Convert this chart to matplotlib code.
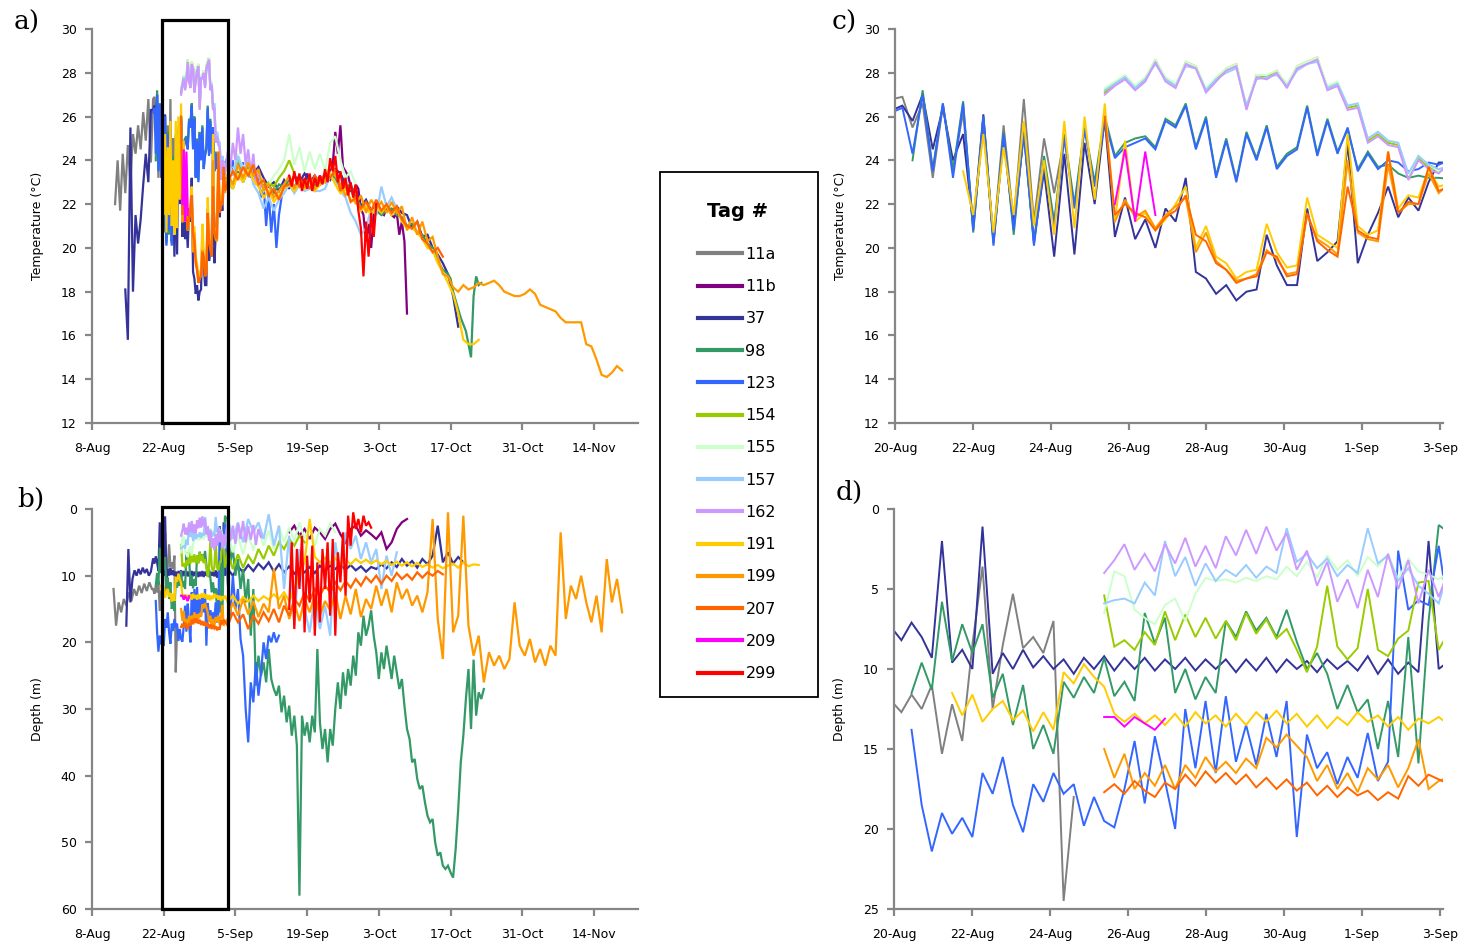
import numpy as np
import matplotlib
matplotlib.use("Agg")
import matplotlib.pyplot as plt
from matplotlib.patches import Rectangle
from matplotlib.lines import Line2D

# ---------------------------------------------------------------- categories
TAGS = ["11a", "11b", "37", "98", "123", "154", "155", "157", "162",
        "191", "199", "207", "209", "299"]
COLORS = ["#808080", "#800080", "#333399", "#339966", "#3366FF", "#99CC00",
          "#CCFFCC", "#99CCFF", "#CC99FF", "#FFCC00", "#FF9900", "#FF6600",
          "#FF00FF", "#FF0000"]

# x axis: days since 8 Aug
OVERVIEW_TICKS = [0, 14, 28, 42, 56, 70, 84, 98]
OVERVIEW_LABELS = ["8-Aug", "22-Aug", "5-Sep", "19-Sep", "3-Oct", "17-Oct", "31-Oct", "14-Nov"]
DETAIL_TICKS = [12, 14, 16, 18, 20, 22, 24, 26]
DETAIL_LABELS = ["20-Aug", "22-Aug", "24-Aug", "26-Aug", "28-Aug", "30-Aug", "1-Sep", "3-Sep"]
ZOOM_START, ZOOM_END = 13.67, 26.56

# tidal sampling times (days since 8 Aug) for the 20 Aug - 3 Sep window
DETAIL_DAYS = [11.93, 12.19, 12.45, 12.71, 12.97, 13.23, 13.49, 13.75, 14.01, 14.27,
               14.53, 14.79, 15.05, 15.31, 15.57, 15.83, 16.09, 16.35, 16.61, 16.87,
               17.13, 17.39, 17.65, 17.91, 18.17, 18.43, 18.69, 18.95, 19.21, 19.47,
               19.73, 19.99, 20.25, 20.51, 20.77, 21.03, 21.29, 21.55, 21.81, 22.07,
               22.33, 22.59, 22.85, 23.11, 23.37, 23.63, 23.89, 24.15, 24.41, 24.67,
               24.93, 25.19, 25.45, 25.71, 25.97]

# ---------------------------------------------------------------- temperature (deg C)
TEMP_11A_PRE = [22.0, 24.0, 21.7, 24.3, 22.5, 24.7, 23.0, 25.2, 24.3, 25.6, 24.5, 26.2, 24.9, 26.8, 23.9]
TEMP_11A_DETAIL = [26.8, 26.9, 25.5, 26.6, 23.2, 26.5, 23.6, 26.2, 21.0, 25.6, 20.4, 25.6, 21.2, 26.8,
                   21.2, 25.0, 22.5, 25.0]
TEMP_11B_POST = [23.2, 23.0, 23.1, 22.9, 23.4, 23.0, 22.9, 23.3, 23.0, 23.3, 23.0, 23.4, 23.2, 23.6,
                 23.8, 25.3, 24.3, 25.6, 23.7, 23.5, 23.3, 22.8, 22.4, 22.9, 22.7, 21.8, 21.5, 20.3,
                 21.1, 20.0, 21.5, 21.8, 21.9, 21.6, 21.5, 21.8, 21.7, 21.5, 21.4, 21.6, 20.6, 21.2,
                 20.3, 17.0]
TEMP_37_PRE = [18.1, 15.8, 25.5, 18.0, 21.5, 20.2, 21.3, 22.9, 24.3, 23.0, 26.3]
TEMP_37_DETAIL = [26.3, 26.5, 25.8, 27.0, 24.5, 26.4, 24.0, 25.2, 21.0, 26.1,
                  20.3, 25.0, 21.0, 25.2, 20.3, 23.5, 19.6, 24.3, 19.7, 24.8,
                  22.0, 25.9, 20.5, 22.3, 20.4, 21.3, 20.0, 21.8, 21.2, 23.2,
                  18.9, 18.6, 17.9, 18.3, 17.6, 18.0, 18.1, 20.6, 19.2, 18.3,
                  18.3, 21.8, 19.4, 19.8, 20.3, 24.8, 19.3, 20.6, 21.6, 22.8,
                  21.4, 22.3, 21.7, 23.0, 23.9]
TEMP_37_POST = [23.9, 23.5, 24.1, 23.6, 23.9, 23.4, 23.7, 23.2, 22.8, 23.0,
                22.6, 23.1, 22.7, 23.3, 23.0, 23.4, 23.0, 23.3, 22.9, 23.3,
                23.1, 23.6, 23.4, 22.9, 22.6, 22.7, 21.9, 22.2, 21.7, 22.0,
                21.6, 21.8, 21.7, 21.9, 21.6, 21.5, 20.9, 21.2, 20.5, 20.6,
                20.0, 19.7, 19.3, 18.8, 17.8, 16.4]
TEMP_98_DETAIL = [24.0, 27.2, 23.6, 26.6, 23.5, 26.7, 20.7, 26.0, 20.2, 25.3,
                  20.6, 25.4, 20.2, 24.2, 21.2, 25.2, 22.0, 25.5, 23.0, 26.0,
                  24.2, 24.8, 25.0, 25.1, 24.6, 25.9, 25.6, 26.6, 24.6, 26.0,
                  23.3, 25.0, 23.1, 25.3, 24.1, 25.6, 23.7, 24.3, 24.6, 26.5,
                  24.3, 25.9, 24.4, 25.4, 23.6, 24.4, 23.7, 23.8, 23.4, 23.2,
                  23.3, 23.2, 23.2]
TEMP_98_POST = [23.1, 22.7, 23.5, 23.0, 23.6, 23.2, 23.4, 22.6, 22.9, 22.5,
                22.9, 22.8, 23.1, 22.8, 23.1, 22.9, 23.2, 22.8, 23.2, 23.0,
                23.3, 23.2, 22.7, 22.8, 22.9, 22.3, 21.9, 21.8, 21.6, 21.7,
                21.5, 21.7, 21.8, 21.5, 21.4, 21.0, 21.1, 20.7, 20.6, 20.2,
                20.0, 19.4, 19.0, 18.8]
TEMP_98_END = [18.6, 18.0, 17.6, 17.2, 16.8, 16.5, 16.2, 15.6, 15.0, 17.8, 18.7, 18.3, 18.4]
TEMP_123_DETAIL = [26.2, 26.4, 24.3, 27.0, 23.5, 26.6, 23.2, 26.6, 20.8, 26.0,
                   20.1, 25.2, 20.8, 25.3, 20.1, 23.8, 21.0, 25.0, 21.8, 25.4,
                   22.8, 25.8, 24.1, 24.6, 24.8, 25.0, 24.5, 25.8, 25.5, 26.5,
                   24.5, 25.9, 23.2, 24.9, 23.0, 25.2, 24.0, 25.5, 23.6, 24.2,
                   24.5, 26.4, 24.2, 25.8, 24.3, 25.5, 23.5, 24.3, 23.6, 24.0,
                   23.9, 23.5, 23.6, 23.9, 23.8]
TEMP_123_POST = [24.2, 23.5, 24.0, 23.3, 24.1, 23.6, 23.9, 23.5, 23.8, 23.2, 23.6,
                 22.9, 23.3, 22.3, 22.9, 21.0, 22.5, 20.7, 22.0, 20.0, 21.5, 22.3]
TEMP_154_DETAIL = [27.1, 27.5, 27.8, 27.3, 27.7, 28.6, 27.7, 27.4, 28.5, 28.3,
                   27.2, 27.7, 28.2, 28.4, 26.4, 27.9, 27.8, 28.1, 27.4, 28.3,
                   28.5, 28.7, 27.3, 27.5, 26.4, 26.5, 24.9, 25.2, 24.8, 24.7,
                   23.2, 24.1, 23.7, 23.5]
TEMP_154_POST = [23.8, 23.4, 24.0, 23.6, 23.9, 23.1, 23.0, 22.8, 23.0, 22.8, 23.2, 23.5, 24.0, 23.4]
TEMP_155_DETAIL = [27.3, 27.6, 27.9, 27.4, 27.8, 28.6, 27.8, 27.5, 28.5, 28.3,
                   27.3, 27.8, 28.2, 28.4, 26.5, 27.9, 27.9, 28.1, 27.5, 28.3,
                   28.5, 28.7, 27.4, 27.6, 26.5, 26.6, 25.0, 25.3, 24.9, 24.8,
                   23.3, 24.2, 23.8, 23.5]
TEMP_155_POST = [24.0, 23.4, 24.3, 23.6, 24.2, 23.1, 23.0, 22.6, 22.9, 23.3, 23.6, 24.0, 25.2,
                 23.8, 24.6, 23.5, 24.4, 23.6, 24.3, 23.5, 24.8, 25.1, 24.0, 23.2, 23.5, 22.9]
TEMP_157_DETAIL = [27.2, 27.5, 27.8, 27.3, 27.7, 28.4, 27.7, 27.4, 28.3, 28.2,
                   27.2, 27.7, 28.0, 28.2, 26.5, 27.7, 27.8, 27.9, 27.4, 28.1,
                   28.4, 28.5, 27.3, 27.5, 26.5, 26.6, 25.0, 25.3, 24.9, 24.8,
                   23.4, 24.2, 23.8, 23.6]
TEMP_157_POST = [23.9, 23.3, 24.2, 23.5, 24.0, 22.9, 22.5, 21.8, 22.3, 21.7, 22.2, 22.5,
                 22.9, 22.5, 22.9, 22.6, 22.7, 22.6, 22.6, 22.7, 23.3, 23.0, 22.6, 22.3,
                 21.6, 21.2, 20.6, 20.9, 21.8, 21.5, 22.8, 21.9, 22.3, 21.8]
TEMP_162_DETAIL = [27.0, 27.4, 27.7, 27.2, 27.6, 28.5, 27.6, 27.3, 28.4, 28.2,
                   27.1, 27.6, 28.1, 28.3, 26.3, 27.8, 27.7, 28.0, 27.3, 28.2,
                   28.4, 28.6, 27.2, 27.4, 26.3, 26.4, 24.8, 25.1, 24.7, 24.6,
                   23.1, 24.0, 23.6, 23.4]
TEMP_162_POST = [24.4, 23.6, 24.8, 24.0, 25.5, 24.3, 25.2, 23.8, 24.5, 23.4, 24.3, 22.9, 23.5, 22.8]
TEMP_191_DETAIL = [23.5, 21.5, 25.2, 20.7, 24.6, 21.5, 25.8, 21.0, 24.0, 20.6,
                   25.8, 20.9, 26.0, 22.2, 26.6, 21.2, 24.9, 21.2, 21.6, 20.8,
                   21.3, 22.0, 22.8, 20.0, 21.0, 19.6, 19.3, 18.6, 18.9, 19.0,
                   21.1, 19.8, 19.1, 19.2, 22.3, 20.6, 20.3, 20.0, 25.2, 21.0,
                   20.6, 20.8, 24.4, 21.8, 22.4, 22.3, 23.6, 22.8]
TEMP_191_POST = [23.1, 22.7, 23.4, 23.0, 23.6, 23.1, 22.8, 22.3, 22.6, 22.1,
                 22.4, 22.7, 22.9, 22.6, 23.0, 22.7, 23.0, 22.6, 22.9, 23.1,
                 23.4, 22.9, 22.5, 22.7, 22.2, 22.1, 21.7, 21.9, 21.5, 21.9,
                 21.6, 21.9, 21.5, 21.8, 21.2, 20.9, 20.9, 20.7, 20.4, 20.0,
                 19.9, 19.3, 18.9, 18.4, 17.9, 17.0, 15.8, 15.6, 15.6, 15.8]
TEMP_199_DETAIL = [21.2, 22.2, 21.4, 21.7, 20.9, 21.5, 21.9, 22.3, 19.8, 20.7,
                   19.4, 19.0, 18.5, 18.6, 18.8, 19.9, 19.5, 18.8, 18.9, 21.5,
                   20.4, 20.1, 19.7, 24.0, 20.7, 20.4, 20.3, 23.8, 21.6, 22.0,
                   22.0, 23.4, 22.5]
TEMP_199_POST = [23.4, 22.9, 23.8, 23.2, 23.9, 23.3, 23.6, 22.6, 22.9, 22.3,
                 22.6, 22.9, 23.3, 22.7, 23.2, 22.8, 23.2, 22.7, 23.1, 23.0,
                 23.8, 23.3, 22.9, 22.4, 22.8, 22.0, 22.4, 21.6, 22.2, 21.8,
                 22.1, 21.6, 22.1, 21.6, 21.9, 20.8, 21.4, 20.6, 21.2, 20.3,
                 20.5, 19.6, 18.8, 18.7, 18.2, 18.0, 18.3, 18.1, 18.2, 18.4,
                 18.3, 18.4, 18.5, 18.3, 18.0, 17.9, 17.8, 17.8, 17.9, 18.1,
                 17.9, 17.4, 17.3, 17.2, 17.1, 16.8, 16.6, 16.6, 16.6, 16.6,
                 15.6, 15.5, 14.9, 14.2, 14.1, 14.3, 14.6, 14.4]
TEMP_207_DETAIL = [26.0, 21.5, 22.0, 21.6, 21.4, 20.8, 21.4, 21.7, 22.4, 20.6,
                   20.3, 19.3, 19.0, 18.4, 18.6, 18.7, 19.8, 19.6, 18.7, 18.8,
                   21.6, 20.3, 19.9, 19.6, 22.8, 20.8, 20.5, 20.4, 24.4, 21.6,
                   22.1, 22.0, 23.7, 22.6]
TEMP_207_POST = [23.0, 23.5, 23.1, 23.7, 23.3, 23.8, 22.9, 23.1, 22.4, 22.7,
                 22.2, 22.8, 22.9, 23.3, 22.8, 23.1, 22.7, 23.3, 23.0, 23.4,
                 23.2, 23.6, 22.6, 22.9, 22.1, 22.3, 21.8, 22.1, 21.7, 22.2,
                 21.7, 22.0, 21.6, 21.9, 21.3, 21.0, 20.9, 21.2, 20.4, 20.2,
                 19.8, 20.0, 19.6]
TEMP_209_DETAIL = [22.0, 24.5, 21.2, 24.4, 21.5]
TEMP_299_POST = [23.3, 22.8, 23.5, 22.9, 23.4, 22.6, 23.2, 22.7, 23.4, 22.6,
                 23.2, 22.8, 23.3, 22.9, 23.6, 23.0, 24.1, 23.5, 24.2, 23.0,
                 23.5, 22.7, 23.2, 22.4, 23.0, 22.3, 22.9, 21.7, 20.9, 18.7,
                 21.2, 19.6, 21.6, 20.5, 22.0]

# ---------------------------------------------------------------- depth (m)
DEPTH_11A_PRE = [12.0, 17.5, 14.0, 15.5, 13.5, 14.5, 12.5, 13.8, 12.0, 13.0, 11.5, 12.6, 11.2, 12.3, 11.0, 12.0]
DEPTH_11A_DETAIL = [12.0, 12.7, 11.6, 12.5, 11.0, 15.3, 12.2, 14.5, 8.5, 3.6, 12.5, 8.5, 5.3, 8.7,
                    8.0, 9.0, 7.0, 24.5, 18.0]
DEPTH_11B_POST = [3.5, 2.5, 4.0, 3.0, 4.5, 2.8, 3.5, 4.5, 3.0, 2.2, 3.8, 5.0, 3.0, 2.5, 4.0, 3.2,
                  3.8, 4.5, 3.5, 6.0, 5.0, 3.0, 2.0, 1.5]
DEPTH_37_PRE = [17.5, 6.0, 14.0, 10.5, 9.2, 10.0, 9.0, 9.8, 8.8, 9.6, 9.0, 10.0, 9.4]
DEPTH_37_DETAIL = [7.4, 8.2, 7.1, 8.0, 9.3, 2.0, 9.6, 8.8, 10.0, 1.1,
                   10.3, 9.0, 10.0, 8.8, 9.9, 9.2, 10.0, 9.4, 10.3, 9.3,
                   10.0, 9.2, 10.1, 9.3, 10.0, 9.3, 10.1, 9.4, 10.0, 9.3,
                   10.1, 9.4, 10.0, 9.4, 10.2, 9.4, 10.1, 9.3, 10.2, 9.4,
                   10.0, 9.5, 10.2, 9.4, 10.0, 9.5, 10.1, 9.2, 10.3, 9.4,
                   10.3, 9.6, 10.2, 2.0, 10.0]
DEPTH_37_POST = [9.0, 10.0, 8.6, 9.5, 8.4, 9.3, 8.2, 9.0, 8.0, 9.4,
                 8.3, 9.5, 8.6, 9.7, 8.9, 9.5, 8.7, 9.6, 8.5, 9.3,
                 8.5, 9.0, 8.3, 9.1, 8.4, 9.2, 8.6, 9.4, 8.7, 9.0,
                 8.3, 8.9, 8.0, 8.7, 7.5, 8.5, 7.8, 8.8, 7.5, 8.3,
                 7.0, 2.5, 8.0, 6.5, 8.2, 7.2, 8.0]
DEPTH_98_DETAIL = [11.5, 9.6, 11.3, 5.8, 9.5, 7.2, 9.0, 7.2, 11.8, 10.3,
                   13.5, 11.0, 15.0, 13.5, 15.3, 10.8, 11.8, 10.5, 11.5, 9.3,
                   11.7, 10.8, 12.0, 6.5, 8.4, 6.8, 11.5, 10.0, 11.9, 10.5,
                   11.5, 7.0, 8.0, 6.4, 7.6, 6.8, 8.0, 6.3, 8.3, 10.0,
                   9.0, 10.3, 12.5, 11.0, 12.7, 11.9, 15.0, 12.0, 15.5, 8.0,
                   15.9, 7.0, 1.0]
DEPTH_98_POST = [2.0, 8.0, 6.0, 10.0, 7.5, 12.0, 9.0, 14.0, 10.5, 19.0,
                 12.0, 26.5, 22.0, 25.0, 23.0, 26.0, 21.0, 25.5, 27.0, 28.0,
                 26.5, 30.5, 28.0, 32.0, 29.5, 34.0, 31.0, 35.5, 58.0, 31.0,
                 34.0, 32.0, 35.0, 31.0, 33.5, 21.0, 32.0, 36.0, 33.0, 38.0,
                 33.0, 35.5, 30.0, 26.0, 30.0, 24.5, 28.0, 24.0, 26.5, 22.0,
                 25.0, 18.5, 20.5, 16.0, 19.0, 17.5, 15.2, 19.0, 21.5, 25.5,
                 21.5, 24.0, 20.5, 23.0, 25.5, 22.0, 24.5, 27.0, 25.5, 29.5,
                 33.0, 34.5, 38.0, 37.5, 40.5, 42.0, 41.5, 44.0, 46.0, 47.0,
                 46.5, 50.0, 52.0, 51.5, 53.5, 54.0, 53.5, 54.5, 55.3, 51.0,
                 45.0, 38.0, 34.0, 28.5, 24.0, 33.0, 22.6, 31.0, 27.5, 28.5,
                 27.0]
DEPTH_123_DETAIL = [13.8, 18.5, 21.4, 19.0, 20.3, 19.3, 20.5, 16.5, 17.8, 15.5,
                    18.5, 20.2, 17.2, 18.3, 16.5, 17.8, 17.2, 19.8, 18.0, 19.5,
                    19.9, 17.5, 14.5, 18.4, 14.2, 17.0, 20.0, 12.5, 16.2, 12.0,
                    16.5, 11.7, 15.8, 13.5, 16.0, 12.8, 15.5, 12.0, 20.5, 14.1,
                    16.2, 15.2, 17.2, 15.5, 16.8, 14.0, 17.0, 15.8, 2.6, 6.3,
                    5.7, 6.0, 2.3]
DEPTH_123_POST = [11.0, 16.0, 10.0, 15.0, 12.0, 19.5, 22.0, 30.0, 35.0, 26.0, 29.0,
                  23.0, 28.0, 24.5, 20.0, 22.5, 19.0, 20.0, 18.5, 20.0, 19.0]
DEPTH_154_DETAIL = [5.4, 8.6, 8.2, 8.8, 7.7, 8.5, 6.4, 8.2, 6.6, 8.0,
                    6.8, 8.1, 7.0, 8.2, 6.5, 7.8, 6.9, 8.1, 7.5, 8.8,
                    10.2, 8.6, 4.8, 8.6, 9.4, 8.7, 5.0, 8.8, 9.2, 8.1,
                    7.6, 4.6, 4.5, 8.8]
DEPTH_154_POST = [6.5, 9.0, 6.8, 8.8, 7.0, 8.2, 6.0, 7.5, 5.5, 7.0, 5.0, 6.0, 4.5, 5.5, 4.0, 5.0]
DEPTH_155_DETAIL = [6.5, 3.9, 4.2, 6.3, 6.8, 7.2, 6.0, 5.6, 7.0, 5.3,
                    4.3, 4.5, 4.4, 4.6, 4.3, 4.5, 4.2, 4.4, 3.6, 4.2,
                    3.3, 4.3, 2.9, 3.8, 3.2, 4.2, 3.0, 3.6, 2.8, 4.4,
                    3.1, 3.9, 4.1, 4.4]
DEPTH_155_POST = [3.5, 6.5, 4.0, 6.8, 3.8, 6.2, 3.0, 5.5, 3.2, 6.0, 2.5, 5.0, 2.8, 4.8,
                  2.0, 4.5, 2.5, 5.5, 3.0, 4.0, 2.2, 3.5]
DEPTH_157_DETAIL = [5.9, 5.7, 5.6, 5.9, 4.6, 5.4, 2.0, 4.2, 3.0, 4.8,
                    3.4, 4.5, 3.8, 4.2, 3.5, 4.3, 3.6, 4.0, 1.2, 3.3,
                    2.8, 3.7, 3.1, 4.2, 3.5, 4.0, 1.2, 3.4, 2.9, 4.5,
                    3.7, 4.8, 5.3, 5.9]
DEPTH_157_POST = [1.5, 4.5, 2.0, 5.0, 1.5, 3.5, 2.0, 4.5, 0.8, 5.5, 2.5, 12.0, 4.0, 17.5,
                  6.0, 15.0, 18.5, 13.0, 18.0, 14.5, 19.0, 5.0, 10.0, 3.5, 6.0, 4.0,
                  7.5, 5.0, 8.0, 6.0, 12.0, 7.0, 10.0, 6.5]
DEPTH_162_DETAIL = [4.0, 3.2, 2.2, 3.8, 2.8, 3.9, 2.2, 3.4, 1.8, 3.6,
                    2.3, 3.7, 1.7, 2.9, 1.3, 2.8, 1.1, 2.6, 1.5, 3.8,
                    2.6, 4.8, 3.3, 5.8, 4.4, 6.2, 3.8, 5.5, 2.8, 5.0,
                    3.2, 5.9, 3.8, 5.5]
DEPTH_162_POST = [2.0, 4.8, 2.5, 5.2, 2.2, 4.5, 1.8, 5.0, 2.6, 4.6, 2.4, 5.4, 3.0, 4.2]
DEPTH_191_DETAIL = [11.5, 12.9, 11.6, 13.3, 12.5, 12.0, 13.2, 12.6, 13.9, 12.7,
                    13.8, 10.2, 10.9, 9.7, 10.5, 11.1, 12.8, 13.3, 12.8, 13.4,
                    12.9, 13.5, 12.8, 13.6, 12.7, 13.4, 12.9, 13.6, 12.8, 13.5,
                    12.7, 13.3, 12.6, 13.4, 12.8, 13.6, 12.9, 13.7, 13.0, 13.5,
                    12.7, 13.3, 12.9, 13.6, 13.0, 13.8, 13.1, 13.4, 13.0]
DEPTH_191_POST = [14.0, 13.0, 14.2, 13.2, 13.9, 13.0, 13.8, 13.1, 13.6, 12.8,
                  13.5, 12.5, 13.8, 12.0, 10.0, 8.0, 1.5, 7.2, 8.0, 7.3,
                  8.1, 7.4, 8.2, 7.6, 8.3, 7.5, 8.1, 7.6, 8.2, 7.7,
                  8.3, 7.8, 8.4, 7.9, 8.5, 8.0, 8.6, 8.1, 8.7, 8.3,
                  8.8, 8.4, 8.9, 8.5, 8.2, 8.8, 8.0, 8.6, 8.3, 8.4]
DEPTH_199_DETAIL = [15.0, 16.8, 15.3, 17.5, 16.5, 17.3, 16.0, 17.5, 16.0, 16.8,
                    15.5, 16.4, 15.8, 16.5, 15.6, 16.2, 14.3, 14.9, 14.1, 14.8,
                    15.5, 17.0, 16.0, 17.5, 16.5, 17.7, 16.2, 16.9, 16.0, 17.4,
                    16.2, 14.4, 17.5, 17.0]
DEPTH_199_POST = [16.5, 14.0, 16.0, 13.5, 15.8, 13.8, 16.2, 14.2, 15.5, 9.0,
                  15.0, 13.0, 16.5, 14.0, 16.8, 13.5, 15.5, 12.8, 16.0, 13.8,
                  15.2, 12.5, 16.5, 13.0, 15.8, 12.0, 16.2, 13.5, 15.0, 11.5,
                  14.5, 12.0, 15.5, 11.0, 13.5, 12.0, 14.5, 13.0, 15.5, 12.5,
                  1.5, 16.5, 22.5, 0.5, 18.5, 16.0, 1.0, 17.5, 22.0, 19.0,
                  26.0, 21.5, 23.5, 22.0, 24.0, 22.5, 14.0, 20.5, 22.0, 19.5,
                  23.0, 21.0, 23.5, 20.5, 22.0, 3.5, 16.5, 11.5, 13.5, 10.0,
                  14.0, 17.0, 13.0, 18.5, 7.5, 14.0, 10.5, 15.5]
DEPTH_207_DETAIL = [17.7, 17.2, 17.8, 17.0, 17.6, 18.0, 17.1, 17.5, 16.6, 17.3,
                    16.4, 17.1, 16.5, 17.2, 16.6, 17.4, 16.8, 17.5, 16.9, 17.6,
                    17.1, 17.9, 17.3, 18.0, 17.4, 17.9, 17.6, 18.2, 17.7, 18.1,
                    16.7, 17.3, 16.6, 16.9]
DEPTH_207_POST = [17.5, 15.5, 17.0, 15.8, 18.0, 16.0, 17.2, 15.5, 16.8, 15.0,
                  17.0, 14.5, 16.0, 13.5, 14.5, 12.5, 13.8, 12.0, 13.0, 11.5,
                  12.5, 11.0, 12.2, 10.8, 11.8, 10.5, 11.5, 10.2, 11.0, 10.0,
                  11.2, 10.0, 10.8, 9.6, 10.5, 9.8, 10.6, 9.5, 10.3, 9.5,
                  10.0, 9.3, 9.8]
DEPTH_209_DETAIL = [13.0, 13.0, 13.6, 13.0, 13.4, 13.8, 13.1]
DEPTH_299_POST = [15.0, 5.0, 18.0, 6.0, 12.0, 4.0, 18.5, 7.0, 14.0, 5.5,
                  19.0, 8.0, 17.0, 6.0, 12.0, 5.0, 16.0, 4.5, 19.0, 6.5,
                  11.0, 3.5, 13.0, 1.0, 5.5, 0.5, 3.0, 1.5, 3.5, 1.0,
                  2.5, 2.0, 2.8]


# ---------------------------------------------------------------- helpers
def seg(start, step, vals):
    return start + step * np.arange(len(vals)), np.asarray(vals, float)


def det(k0, vals):
    return np.asarray(DETAIL_DAYS[k0:k0 + len(vals)], float), np.asarray(vals, float)


def join(parts):
    d = np.concatenate([p[0] for p in parts])
    v = np.concatenate([p[1] for p in parts])
    o = np.argsort(d, kind="stable")
    return d[o], v[o]


TEMP = [
    join([seg(4.5, 0.5, TEMP_11A_PRE), det(0, TEMP_11A_DETAIL)]),
    join([seg(40, 0.5, TEMP_11B_POST)]),
    join([seg(6.5, 0.5, TEMP_37_PRE), det(0, TEMP_37_DETAIL), seg(26.5, 1, TEMP_37_POST)]),
    join([det(2, TEMP_98_DETAIL), seg(26.5, 1, TEMP_98_POST), seg(70, 0.5, TEMP_98_END)]),
    join([det(0, TEMP_123_DETAIL), seg(26.5, 0.5, TEMP_123_POST)]),
    join([det(21, TEMP_154_DETAIL), seg(26.5, 1, TEMP_154_POST)]),
    join([det(21, TEMP_155_DETAIL), seg(26.5, 1, TEMP_155_POST)]),
    join([det(21, TEMP_157_DETAIL), seg(26.5, 1, TEMP_157_POST)]),
    join([det(21, TEMP_162_DETAIL), seg(26.5, 0.5, TEMP_162_POST)]),
    join([det(7, TEMP_191_DETAIL), seg(26.5, 1, TEMP_191_POST)]),
    join([det(22, TEMP_199_DETAIL), seg(26.5, 1, TEMP_199_POST)]),
    join([det(21, TEMP_207_DETAIL), seg(26.5, 1, TEMP_207_POST)]),
    join([det(22, TEMP_209_DETAIL)]),
    join([seg(38.5, 0.5, TEMP_299_POST)]),
]
DEPTH = [
    join([seg(4.2, 0.5, DEPTH_11A_PRE), det(0, DEPTH_11A_DETAIL)]),
    join([seg(38.5, 1, DEPTH_11B_POST)]),
    join([seg(6.7, 0.4, DEPTH_37_PRE), det(0, DEPTH_37_DETAIL), seg(26.5, 1, DEPTH_37_POST)]),
    join([det(2, DEPTH_98_DETAIL), seg(26.5, 0.5, DEPTH_98_POST)]),
    join([det(2, DEPTH_123_DETAIL), seg(26.5, 0.5, DEPTH_123_POST)]),
    join([det(21, DEPTH_154_DETAIL), seg(26.5, 1, DEPTH_154_POST)]),
    join([det(21, DEPTH_155_DETAIL), seg(26.5, 1, DEPTH_155_POST)]),
    join([det(21, DEPTH_157_DETAIL), seg(26.5, 1, DEPTH_157_POST)]),
    join([det(21, DEPTH_162_DETAIL), seg(26.5, 0.5, DEPTH_162_POST)]),
    join([det(6, DEPTH_191_DETAIL), seg(26.5, 1, DEPTH_191_POST)]),
    join([det(21, DEPTH_199_DETAIL), seg(26.5, 1, DEPTH_199_POST)]),
    join([det(21, DEPTH_207_DETAIL), seg(26.5, 1, DEPTH_207_POST)]),
    join([det(21, DEPTH_209_DETAIL)]),
    join([seg(38.5, 0.5, DEPTH_299_POST)]),
]

# ---------------------------------------------------------------- figure
W, H = 1468, 944
fig = plt.figure(figsize=(W / 100, H / 100), dpi=100)


def px_axes(left, top, right, bottom):
    return fig.add_axes([left / W, 1 - bottom / H, (right - left) / W, (bottom - top) / H])


ax_a = px_axes(92, 29, 638, 423)
ax_b = px_axes(92, 509, 638, 909)
ax_c = px_axes(895, 29, 1443, 423)
ax_d = px_axes(894, 509, 1443, 909)

GREY = "#868686"
TICK_FONT = dict(family="DejaVu Sans", size=9)


def style(ax, xlim, xticks, xlabels, ylim, yticks, ylabel):
    ax.set_xlim(*xlim)
    ax.set_ylim(*ylim)
    for s in ("top", "right"):
        ax.spines[s].set_visible(False)
    for s in ("left", "bottom"):
        ax.spines[s].set_color(GREY)
        ax.spines[s].set_linewidth(1.6)
    ax.set_xticks(xticks)
    ax.set_xticklabels(xlabels, fontdict=TICK_FONT)
    ax.set_yticks(yticks)
    ax.set_yticklabels([str(t) for t in yticks], fontdict=TICK_FONT)
    ax.tick_params(axis="both", direction="out", length=5, width=1.6, color=GREY)
    ax.tick_params(axis="x", pad=8.5)
    ax.tick_params(axis="y", pad=6)
    ax.set_ylabel(ylabel, fontsize=9, family="DejaVu Sans")
    ax.yaxis.set_label_coords(-0.088, 0.5)


for ax, data, lw in ((ax_a, TEMP, 1.6), (ax_c, TEMP, 1.4), (ax_b, DEPTH, 1.6), (ax_d, DEPTH, 1.4)):
    for (d, v), c in zip(data, COLORS):
        ax.plot(d, v, color=c, lw=lw, solid_joinstyle="miter")

style(ax_a, (0, 106.6), OVERVIEW_TICKS, OVERVIEW_LABELS, (12, 30), list(range(12, 31, 2)), "Temperature (°C)")
style(ax_b, (0, 106.6), OVERVIEW_TICKS, OVERVIEW_LABELS, (60, 0), list(range(0, 61, 10)), "Depth (m)")
style(ax_c, (12, 26.08), DETAIL_TICKS, DETAIL_LABELS, (12, 30), list(range(12, 31, 2)), "Temperature (°C)")
style(ax_d, (12, 26.08), DETAIL_TICKS, DETAIL_LABELS, (25, 0), list(range(0, 26, 5)), "Depth (m)")

# zoom window boxes
ax_a.add_patch(Rectangle((ZOOM_START, 12), ZOOM_END - ZOOM_START, 18.4, fill=False,
                         ec="black", lw=2.3, clip_on=False, zorder=5))
ax_b.add_patch(Rectangle((ZOOM_START, -0.3), ZOOM_END - ZOOM_START, 60.3, fill=False,
                         ec="black", lw=2.3, clip_on=False, zorder=5))

# panel letters
for txt, x, y in (("a)", 27, 22), ("b)", 31, 499), ("c)", 844, 22), ("d)", 849, 492)):
    fig.text(x / W, 1 - y / H, txt, fontsize=19, family="DejaVu Serif", ha="center", va="center")

# legend
fig.patches.append(Rectangle((660 / W, 1 - 697 / H), 158 / W, 525 / H, transform=fig.transFigure,
                             fill=False, ec="black", lw=1.3))
handles = [Line2D([], [], color=c, lw=3) for c in COLORS]
leg = fig.legend(handles, TAGS, loc="upper left", bbox_to_anchor=(684 / W, 1 - 188 / H),
                 frameon=False, fontsize=11.5, handlelength=2.75, handletextpad=0.2,
                 labelspacing=1.08, title="Tag #",
                 title_fontproperties=dict(size=14, weight="bold", family="DejaVu Sans"))
leg._legend_box.align = "center"
leg._legend_box.sep = leg._legend_box.sep + 6

fig.savefig("out.png", dpi=100)
